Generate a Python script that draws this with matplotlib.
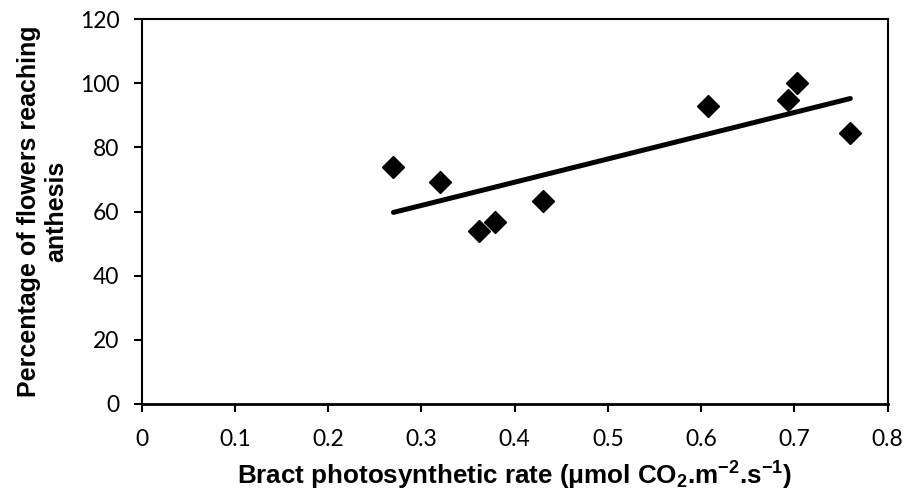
import numpy as np
import matplotlib
matplotlib.use("Agg")
import matplotlib.pyplot as plt

plt.rcParams["mathtext.fontset"] = "custom"
plt.rcParams["mathtext.rm"] = "Liberation Sans"
plt.rcParams["mathtext.bf"] = "Liberation Sans:bold"
plt.rcParams["mathtext.default"] = "bf"

# Data
rate = [0.270, 0.320, 0.362, 0.379, 0.430, 0.607, 0.693, 0.7025, 0.760]
anthesis = [74.0, 69.3, 54.1, 56.7, 63.3, 92.9, 94.8, 100.0, 84.4]
x_ticks = [0, 0.1, 0.2, 0.3, 0.4, 0.5, 0.6, 0.7, 0.8]
x_tick_labels = ["0", "0.1", "0.2", "0.3", "0.4", "0.5", "0.6", "0.7", "0.8"]
y_ticks = [0, 20, 40, 60, 80, 100, 120]

fig = plt.figure(figsize=(9.09, 4.99), dpi=100)
ax = fig.add_axes([0.1559, 0.1904, 0.8206, 0.7711])

# Linear trend line
slope, intercept = np.polyfit(rate, anthesis, 1)
xl = np.array([min(rate), max(rate)])
ax.plot(xl, slope * xl + intercept, color="black", lw=3.6, solid_capstyle="round", zorder=2)

ax.plot(rate, anthesis, linestyle="none", marker="D", markersize=11,
        color="black", zorder=3)

ax.set_xlim(0, 0.8)
ax.set_ylim(0, 120)
ax.set_xticks(x_ticks)
ax.set_xticklabels(x_tick_labels)
ax.set_yticks(y_ticks)

for lab in ax.get_xticklabels() + ax.get_yticklabels():
    lab.set_fontfamily(["Lato", "DejaVu Sans"])
    lab.set_fontsize(16.5)

ax.tick_params(axis="both", direction="out", length=6, width=1.5, color="black")
ax.tick_params(axis="x", pad=12)
ax.tick_params(axis="y", pad=10)
for s in ax.spines.values():
    s.set_linewidth(1.5)
    s.set_color("black")
ax.spines["bottom"].set_linewidth(2)

ax.set_xlabel(r"Bract photosynthetic rate (μmol CO$_{2}$.m$^{-2}$.s$^{-1}$)",
              fontfamily=["Liberation Sans", "DejaVu Sans"], fontweight="bold", fontsize=18.7, labelpad=7)
ax.set_ylabel("Percentage of flowers reaching\nanthesis",
              fontfamily=["Liberation Sans", "DejaVu Sans"], fontweight="bold", fontsize=18,
              linespacing=1.15)
ax.yaxis.set_label_coords(-0.099, 0.5)

fig.savefig("out.png", dpi=100)
